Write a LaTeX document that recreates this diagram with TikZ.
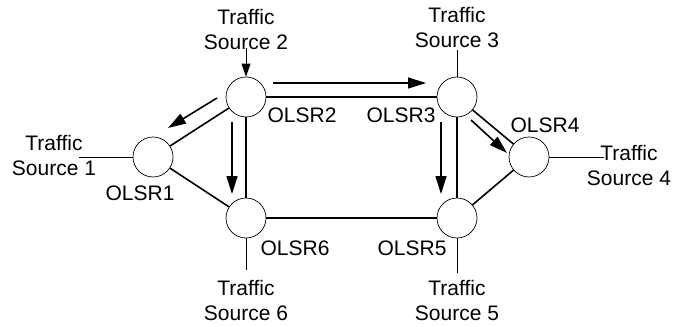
\documentclass[tikz,border=0pt]{standalone}
\usepackage{fontspec}
\setmainfont{Liberation Sans}
\usetikzlibrary{arrows.meta,calc}

\tikzset{
  router/.style={circle,draw,minimum size=40pt,inner sep=0pt,line width=0.7pt},
  link/.style={line width=1.6pt},
  feed/.style={line width=0.7pt},
  flow/.style={line width=1.6pt,-{Triangle[length=18pt,width=11pt]}},
  inflow/.style={line width=0.9pt,-{Triangle[length=13pt,width=9pt]}},
  lbl/.style={font=\fontsize{21}{25}\selectfont,align=center,inner sep=0pt}
}

\begin{document}
\begin{tikzpicture}[x=1pt,y=-1pt]
    \useasboundingbox (0,0) rectangle (684,326);
    % routers
    \foreach \x/\y/\name in {153/157/o1,246/97/o2,457/97/o3,529/157/o4,457/218/o5,246/218/o6} {
     \node[router] (\name) at (\x,\y) {};
    }
    \foreach \x/\y/\name/\txt in {140/193/l1/OLSR1,302/115/l2/OLSR2,401/115/l3/OLSR3,
                                  545/125/l4/OLSR4,412/248/l5/OLSR5,295/248/l6/OLSR6} {
     \node[lbl] (\name) at (\x,\y) {\txt};
    }

    % links
    \draw[link] (o1) -- (o2);
    \draw[link] (o1) -- (o6);
    \draw[link] (o2) -- (o3);
    \draw[link] (o2) -- (o6);
    \draw[link] (o3) -- (o4);
    \draw[link] (o3) -- (o5);
    \draw[link] (o4) -- (o5);
    \draw[link] (o5) -- (o6);

    % traffic sources
    \node[lbl] (s1) at (54,155) {Traffic\\Source 1};
    \node[lbl] (s2) at (246,29) {Traffic\\Source 2};
    \node[lbl] (s3) at (457,27) {Traffic\\Source 3};
    \node[lbl] (s4) at (629,165) {Traffic\\Source 4};
    \node[lbl] (s5) at (457,300) {Traffic\\Source 5};
    \node[lbl] (s6) at (246,300) {Traffic\\Source 6};
    \coordinate (c1) at (79,157);
    \coordinate (c2) at (246,48);
    \coordinate (c3) at (457,50);
    \coordinate (c4) at (604,157);
    \coordinate (c5) at (457,273);
    \coordinate (c6) at (246,270);
    \draw[feed] (c1) -- (o1);
    \draw[inflow] (c2) -- (o2);
    \draw[feed] (c3) -- (o3);
    \draw[feed] (c4) -- (o4);
    \draw[feed] (c5) -- (o5);
    \draw[feed] (c6) -- (o6);

    % routing direction
    \draw[flow] (273,83) -- (426,83);
    \draw[flow] (232,122) -- (232,194);
    \draw[flow] (217,98) -- (168,128);
    \draw[flow] (441,122) -- (441,194);
    \draw[flow] (471,120) -- (507,153);
\end{tikzpicture}
\end{document}
